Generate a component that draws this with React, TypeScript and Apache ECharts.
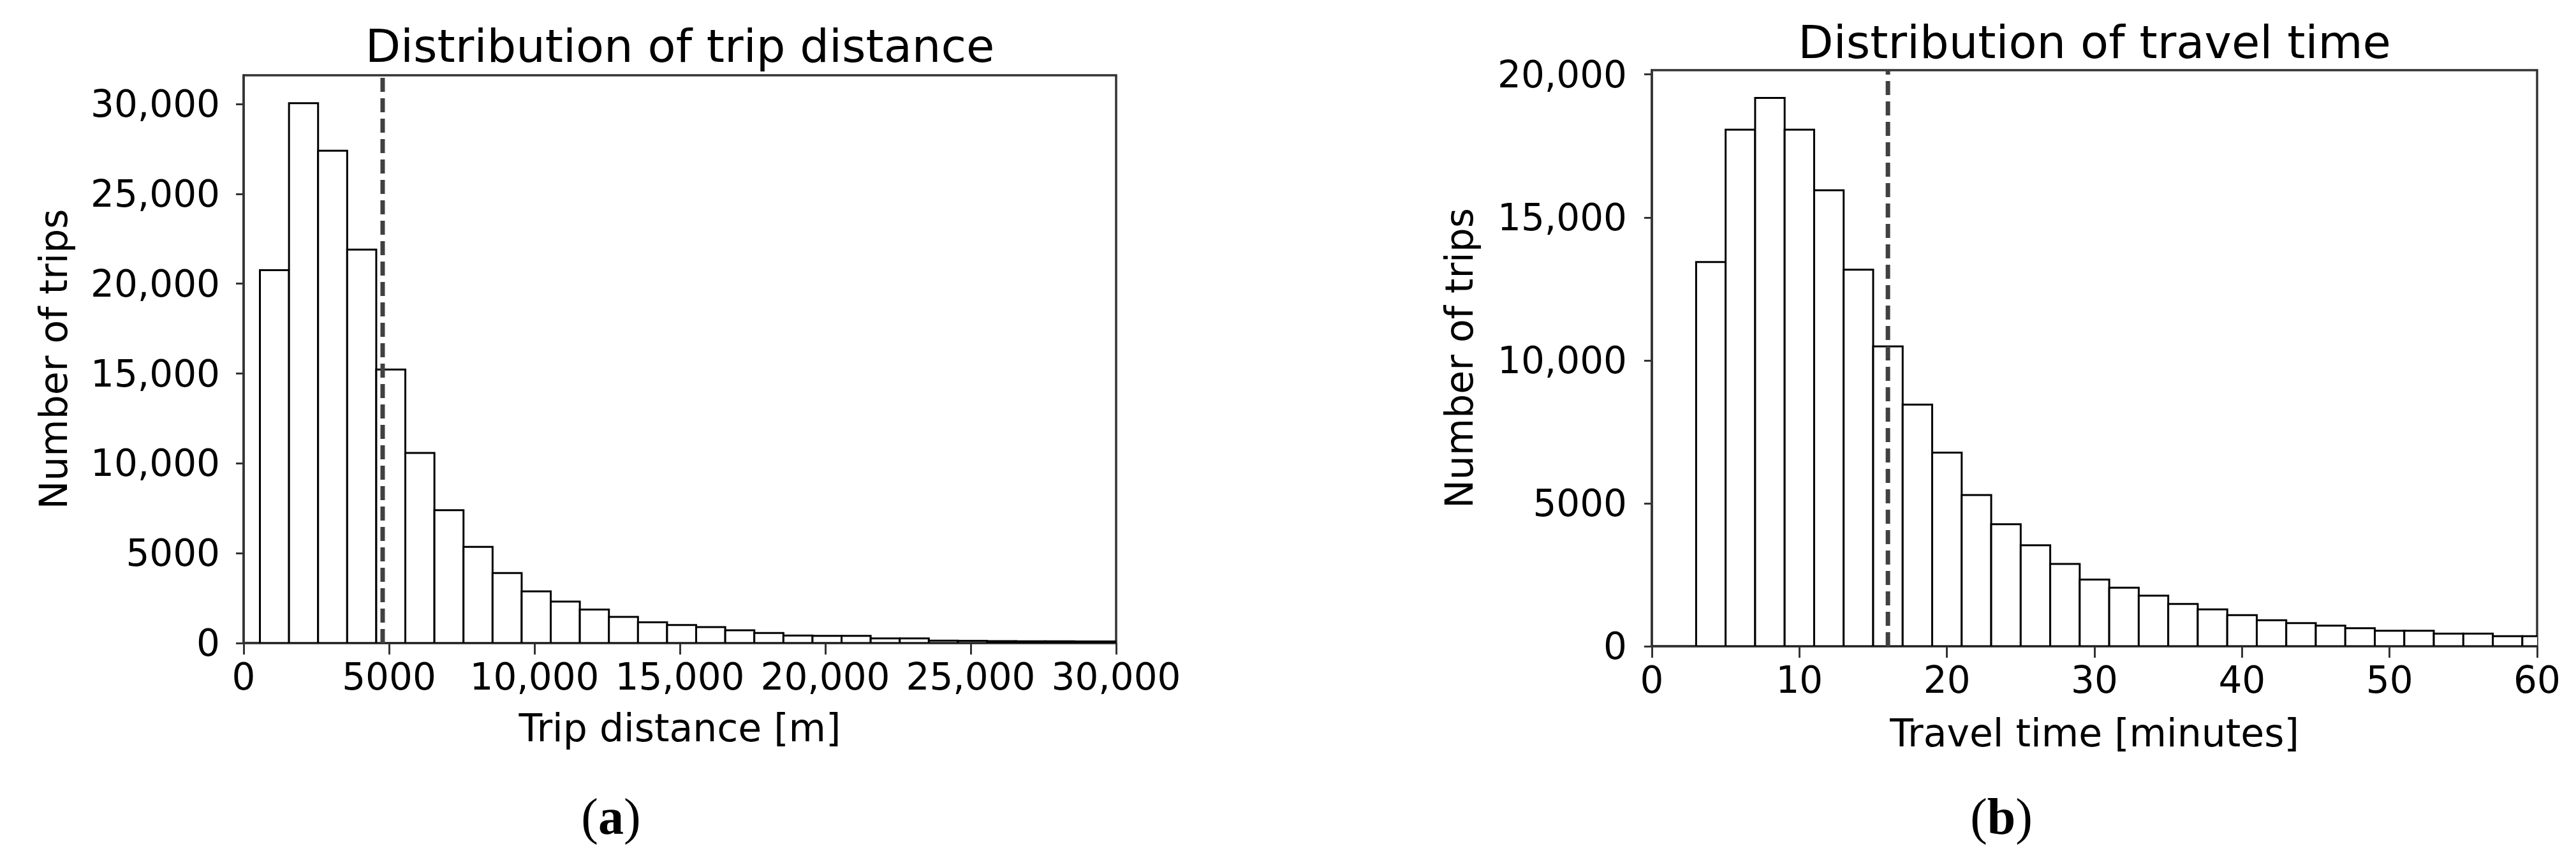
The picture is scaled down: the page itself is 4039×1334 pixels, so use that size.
import React, { useEffect, useRef } from 'react';
import * as echarts from 'echarts';

// ---------- Data: (a) trip distance ----------
const distEdges = [
  560, 1560, 2560, 3560, 4560, 5560, 6560, 7560, 8560, 9560,
  10560, 11560, 12560, 13560, 14560, 15560, 16560, 17560, 18560, 19560,
  20560, 21560, 22560, 23560, 24560, 25560, 26560, 27560, 28560, 29560, 30560,
];
const distCounts = [
  20750, 30050, 27400, 21900, 15220, 10580, 7390, 5350, 3900, 2880,
  2310, 1860, 1460, 1150, 1000, 890, 710, 560, 420, 400,
  400, 260, 260, 130, 120, 110, 100, 95, 90, 85,
];
const distMean = 4780;
const distXTicks = [0, 5000, 10000, 15000, 20000, 25000, 30000];
const distYTicks = [0, 5000, 10000, 15000, 20000, 25000, 30000];
const distXMax = 30000;
const distYMax = 31600;

// ---------- Data: (b) travel time ----------
const timeEdges = [
  3, 5, 7, 9, 11, 13, 15, 17, 19, 21, 23, 25, 27, 29, 31,
  33, 35, 37, 39, 41, 43, 45, 47, 49, 51, 53, 55, 57, 59, 61,
];
const timeCounts = [
  13440, 18070, 19180, 18070, 15950, 13170, 10490, 8450, 6770, 5290,
  4270, 3530, 2880, 2330, 2050, 1770, 1480, 1290, 1090, 910,
  810, 720, 630, 540, 540, 440, 440, 350, 350,
];
const timeMean = 16;
const timeXTicks = [0, 10, 20, 30, 40, 50, 60];
const timeYTicks = [0, 5000, 10000, 15000, 20000];
const timeXMax = 60;
const timeYMax = 20150;

const titles = ['Distribution of trip distance', 'Distribution of travel time'];
const xNames = ['Trip distance [m]', 'Travel time [minutes]'];
const yName = 'Number of trips';
const panelLabels = ['a', 'b'];

const FONT = 'DejaVu Sans';
const SPINE = '#333333';

const fmt = (v: number) => (v >= 10000 ? v.toLocaleString('en-US') : String(v));

const toBins = (edges: number[], counts: number[]) =>
  counts.map((c, i) => [edges[i], edges[i + 1], c]);

const renderBar = (params: any, api: any) => {
  const x0 = api.value(0);
  const x1 = api.value(1);
  const y = api.value(2);
  const p0 = api.coord([x0, y]);
  const p1 = api.coord([x1, 0]);
  return {
    type: 'rect',
    shape: { x: p0[0], y: p0[1], width: p1[0] - p0[0], height: p1[1] - p0[1] },
    style: { fill: '#ffffff', stroke: '#000000', lineWidth: 3 },
  };
};

export default function App() {
  const ref = useRef<HTMLDivElement>(null);

  useEffect(() => {
    if (!ref.current) return;
    const chart = echarts.init(ref.current, undefined, { renderer: 'svg' });

    const grids = [
      { left: 382, top: 118, width: 1368, height: 890 },
      { left: 2590, top: 110, width: 1388, height: 903 },
    ];

    const xAxis = (gi: number, max: number, ticks: number[], name: string, nameGap: number) => ({
      type: 'value',
      gridIndex: gi,
      min: 0,
      max,
      interval: ticks[1] - ticks[0],
      name,
      nameLocation: 'middle',
      nameGap,
      nameTextStyle: { fontFamily: FONT, fontSize: 60, color: '#000' },
      axisLine: { show: true, onZero: false, lineStyle: { color: SPINE, width: 3.5 } },
      axisTick: { show: true, length: 18, customValues: ticks, lineStyle: { color: SPINE, width: 3 } },
      axisLabel: {
        show: true,
        margin: 24,
        customValues: ticks,
        fontFamily: FONT,
        fontSize: 58,
        color: '#000',
        formatter: (v: number) => fmt(v),
      },
      splitLine: { show: false },
    });

    const yAxis = (gi: number, max: number, ticks: number[], nameGap: number, margin: number) => ({
      type: 'value',
      gridIndex: gi,
      min: 0,
      max,
      interval: ticks[1] - ticks[0],
      name: yName,
      nameLocation: 'middle',
      nameRotate: 90,
      nameGap,
      nameTextStyle: { fontFamily: FONT, fontSize: 60, color: '#000' },
      axisLine: { show: true, onZero: false, lineStyle: { color: SPINE, width: 3.5 } },
      axisTick: { show: true, length: 12, customValues: ticks, lineStyle: { color: SPINE, width: 3 } },
      axisLabel: {
        show: true,
        margin,
        customValues: ticks,
        fontFamily: FONT,
        fontSize: 58,
        color: '#000',
        formatter: (v: number) => (ticks.indexOf(v) >= 0 ? fmt(v) : ''),
      },
      splitLine: { show: false },
    });

    const meanLine = (gi: number, mean: number, yMax: number) => ({
      type: 'line',
      xAxisIndex: gi,
      yAxisIndex: gi,
      data: [[mean, 0], [mean, yMax]],
      symbol: 'none',
      silent: true,
      z: 5,
      lineStyle: { color: '#404040', width: 7, type: [22, 10] },
    });

    const labelText = (x: number, letter: string) => ({
      type: 'text',
      x,
      y: 1280,
      style: {
        text: `{p|(}{b|${letter}}{p|)}`,
        align: 'center',
        verticalAlign: 'middle',
        fontFamily: 'Liberation Serif',
        fontSize: 80,
        fill: '#000',
        rich: {
          p: { fontFamily: 'Liberation Serif', fontSize: 80, fontWeight: 'normal', color: '#000' },
          b: { fontFamily: 'Liberation Serif', fontSize: 80, fontWeight: 'bold', color: '#000' },
        },
      },
    });

    const option: any = {
      animation: false,
      backgroundColor: '#ffffff',
      grid: grids.map((g) => ({
        ...g,
        show: true,
        borderColor: SPINE,
        borderWidth: 3.5,
        backgroundColor: 'transparent',
        containLabel: false,
      })),
      xAxis: [
        xAxis(0, distXMax, distXTicks, xNames[0], 103),
        xAxis(1, timeXMax, timeXTicks, xNames[1], 106),
      ],
      yAxis: [
        yAxis(0, distYMax, distYTicks, 268, 37),
        yAxis(1, timeYMax, timeYTicks, 272, 39),
      ],
      series: [
        {
          type: 'custom',
          xAxisIndex: 0,
          yAxisIndex: 0,
          clip: true,
          renderItem: renderBar,
          encode: { x: [0, 1], y: 2 },
          data: toBins(distEdges, distCounts),
          silent: true,
        },
        meanLine(0, distMean, distYMax),
        {
          type: 'custom',
          xAxisIndex: 1,
          yAxisIndex: 1,
          clip: true,
          renderItem: renderBar,
          encode: { x: [0, 1], y: 2 },
          data: toBins(timeEdges, timeCounts),
          silent: true,
        },
        meanLine(1, timeMean, timeYMax),
      ],
      graphic: [
        {
          type: 'text',
          x: 382 + 1368 / 2,
          y: 36,
          style: { text: titles[0], align: 'center', verticalAlign: 'top', fontFamily: FONT, fontSize: 72, fill: '#000' },
        },
        {
          type: 'text',
          x: 2590 + 1388 / 2,
          y: 30,
          style: { text: titles[1], align: 'center', verticalAlign: 'top', fontFamily: FONT, fontSize: 72, fill: '#000' },
        },
        labelText(958, panelLabels[0]),
        labelText(3138, panelLabels[1]),
      ],
    };

    chart.setOption(option);
    return () => chart.dispose();
  }, []);

  return (
    <div
      ref={ref}
      style={{ position: 'fixed', left: 0, top: 0, width: 4039, height: 1334, background: '#fff' }}
    />
  );
}
